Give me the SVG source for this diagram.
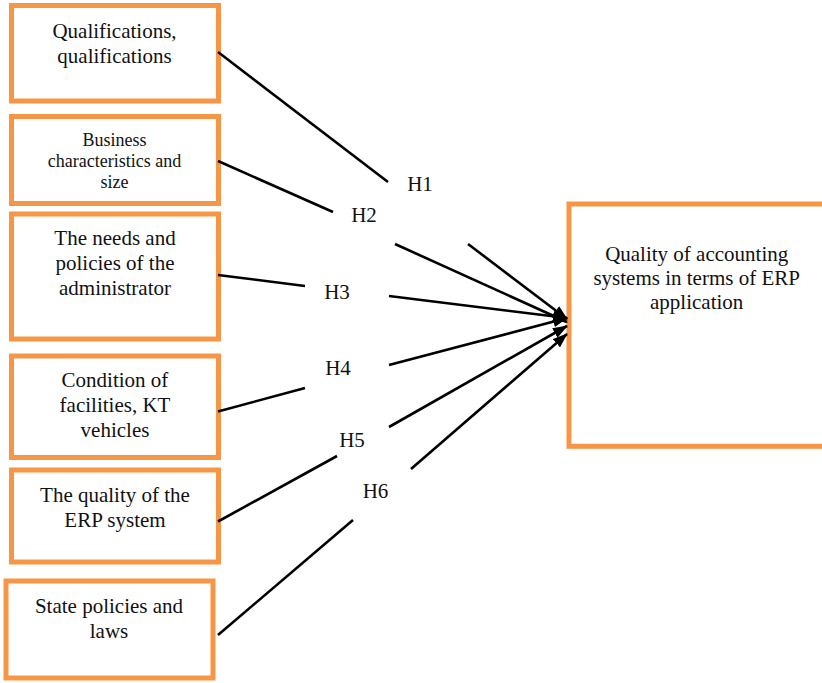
<svg xmlns="http://www.w3.org/2000/svg" width="822" height="683" viewBox="0 0 822 683">
<style>
.box{fill:#fff;stroke:#F79646;stroke-width:5}
.t{font-family:"Liberation Serif","Times New Roman","DejaVu Serif",serif;font-size:21px;fill:#111;text-anchor:middle}
.ts{font-size:18px}
.ln{stroke:#000;stroke-width:2.6;fill:none}
</style>
<defs>
<marker id="ah" markerUnits="userSpaceOnUse" viewBox="0 0 15 11" refX="14" refY="5.5" markerWidth="15" markerHeight="11" orient="auto">
<path d="M0,0 L15,5.5 L0,11 z" fill="#000"/>
</marker>
</defs>
<rect width="822" height="683" fill="#fff"/>
<g id="n1"><rect class="box" x="11.5" y="5.5" width="207" height="95.5"/>
<text class="t" x="114.5" y="37.7">Qualifications,</text><text class="t" x="114.5" y="63">qualifications</text></g>
<g id="n2"><rect class="box" x="11.5" y="116.5" width="207" height="87"/>
<text class="t ts" x="114.5" y="146">Business</text><text class="t ts" x="114.5" y="167">characteristics and</text><text class="t ts" x="114.5" y="188">size</text></g>
<g id="n3"><rect class="box" x="11.5" y="214" width="207" height="125"/>
<text class="t" x="115" y="245">The needs and</text><text class="t" x="115" y="270">policies of the</text><text class="t" x="115" y="295">administrator</text></g>
<g id="n4"><rect class="box" x="11.5" y="356" width="207" height="101.5"/>
<text class="t" x="115" y="386.7">Condition of</text><text class="t" x="115" y="411.7">facilities, KT</text><text class="t" x="115" y="436.7">vehicles</text></g>
<g id="n5"><rect class="box" x="11.5" y="470" width="207" height="92"/>
<text class="t" x="115" y="501.7">The quality of the</text><text class="t" x="115" y="526.7">ERP system</text></g>
<g id="n6"><rect class="box" x="6" y="581" width="207" height="97"/>
<text class="t" x="109" y="613.3">State policies and</text><text class="t" x="109" y="638.3">laws</text></g>
<g id="target"><rect class="box" x="569" y="204" width="270" height="242.3"/>
<text class="t" x="696.7" y="261">Quality of accounting</text><text class="t" x="696.7" y="285">systems in terms of ERP</text><text class="t" x="696.7" y="308.5">application</text></g>
<g id="connectors">
<path class="ln" d="M218,52 L388,182"/><path class="ln" d="M468,244 L567,319" marker-end="url(#ah)"/>
<path class="ln" d="M218,161 L333,212"/><path class="ln" d="M395,244 L567,322" marker-end="url(#ah)"/>
<path class="ln" d="M218,275 L305,286"/><path class="ln" d="M389,296 L567,318" marker-end="url(#ah)"/>
<path class="ln" d="M218,411.5 L305,388"/><path class="ln" d="M389,365 L567,318" marker-end="url(#ah)"/>
<path class="ln" d="M218,521.5 L337,456"/><path class="ln" d="M389,427 L567,326" marker-end="url(#ah)"/>
<path class="ln" d="M218,635 L353,520"/><path class="ln" d="M411,469 L567,334" marker-end="url(#ah)"/>
<text class="t" x="420" y="191">H1</text>
<text class="t" x="364" y="222">H2</text>
<text class="t" x="337" y="299">H3</text>
<text class="t" x="338" y="375">H4</text>
<text class="t" x="352" y="446.7">H5</text>
<text class="t" x="375.5" y="498.3">H6</text>
</g>
</svg>
